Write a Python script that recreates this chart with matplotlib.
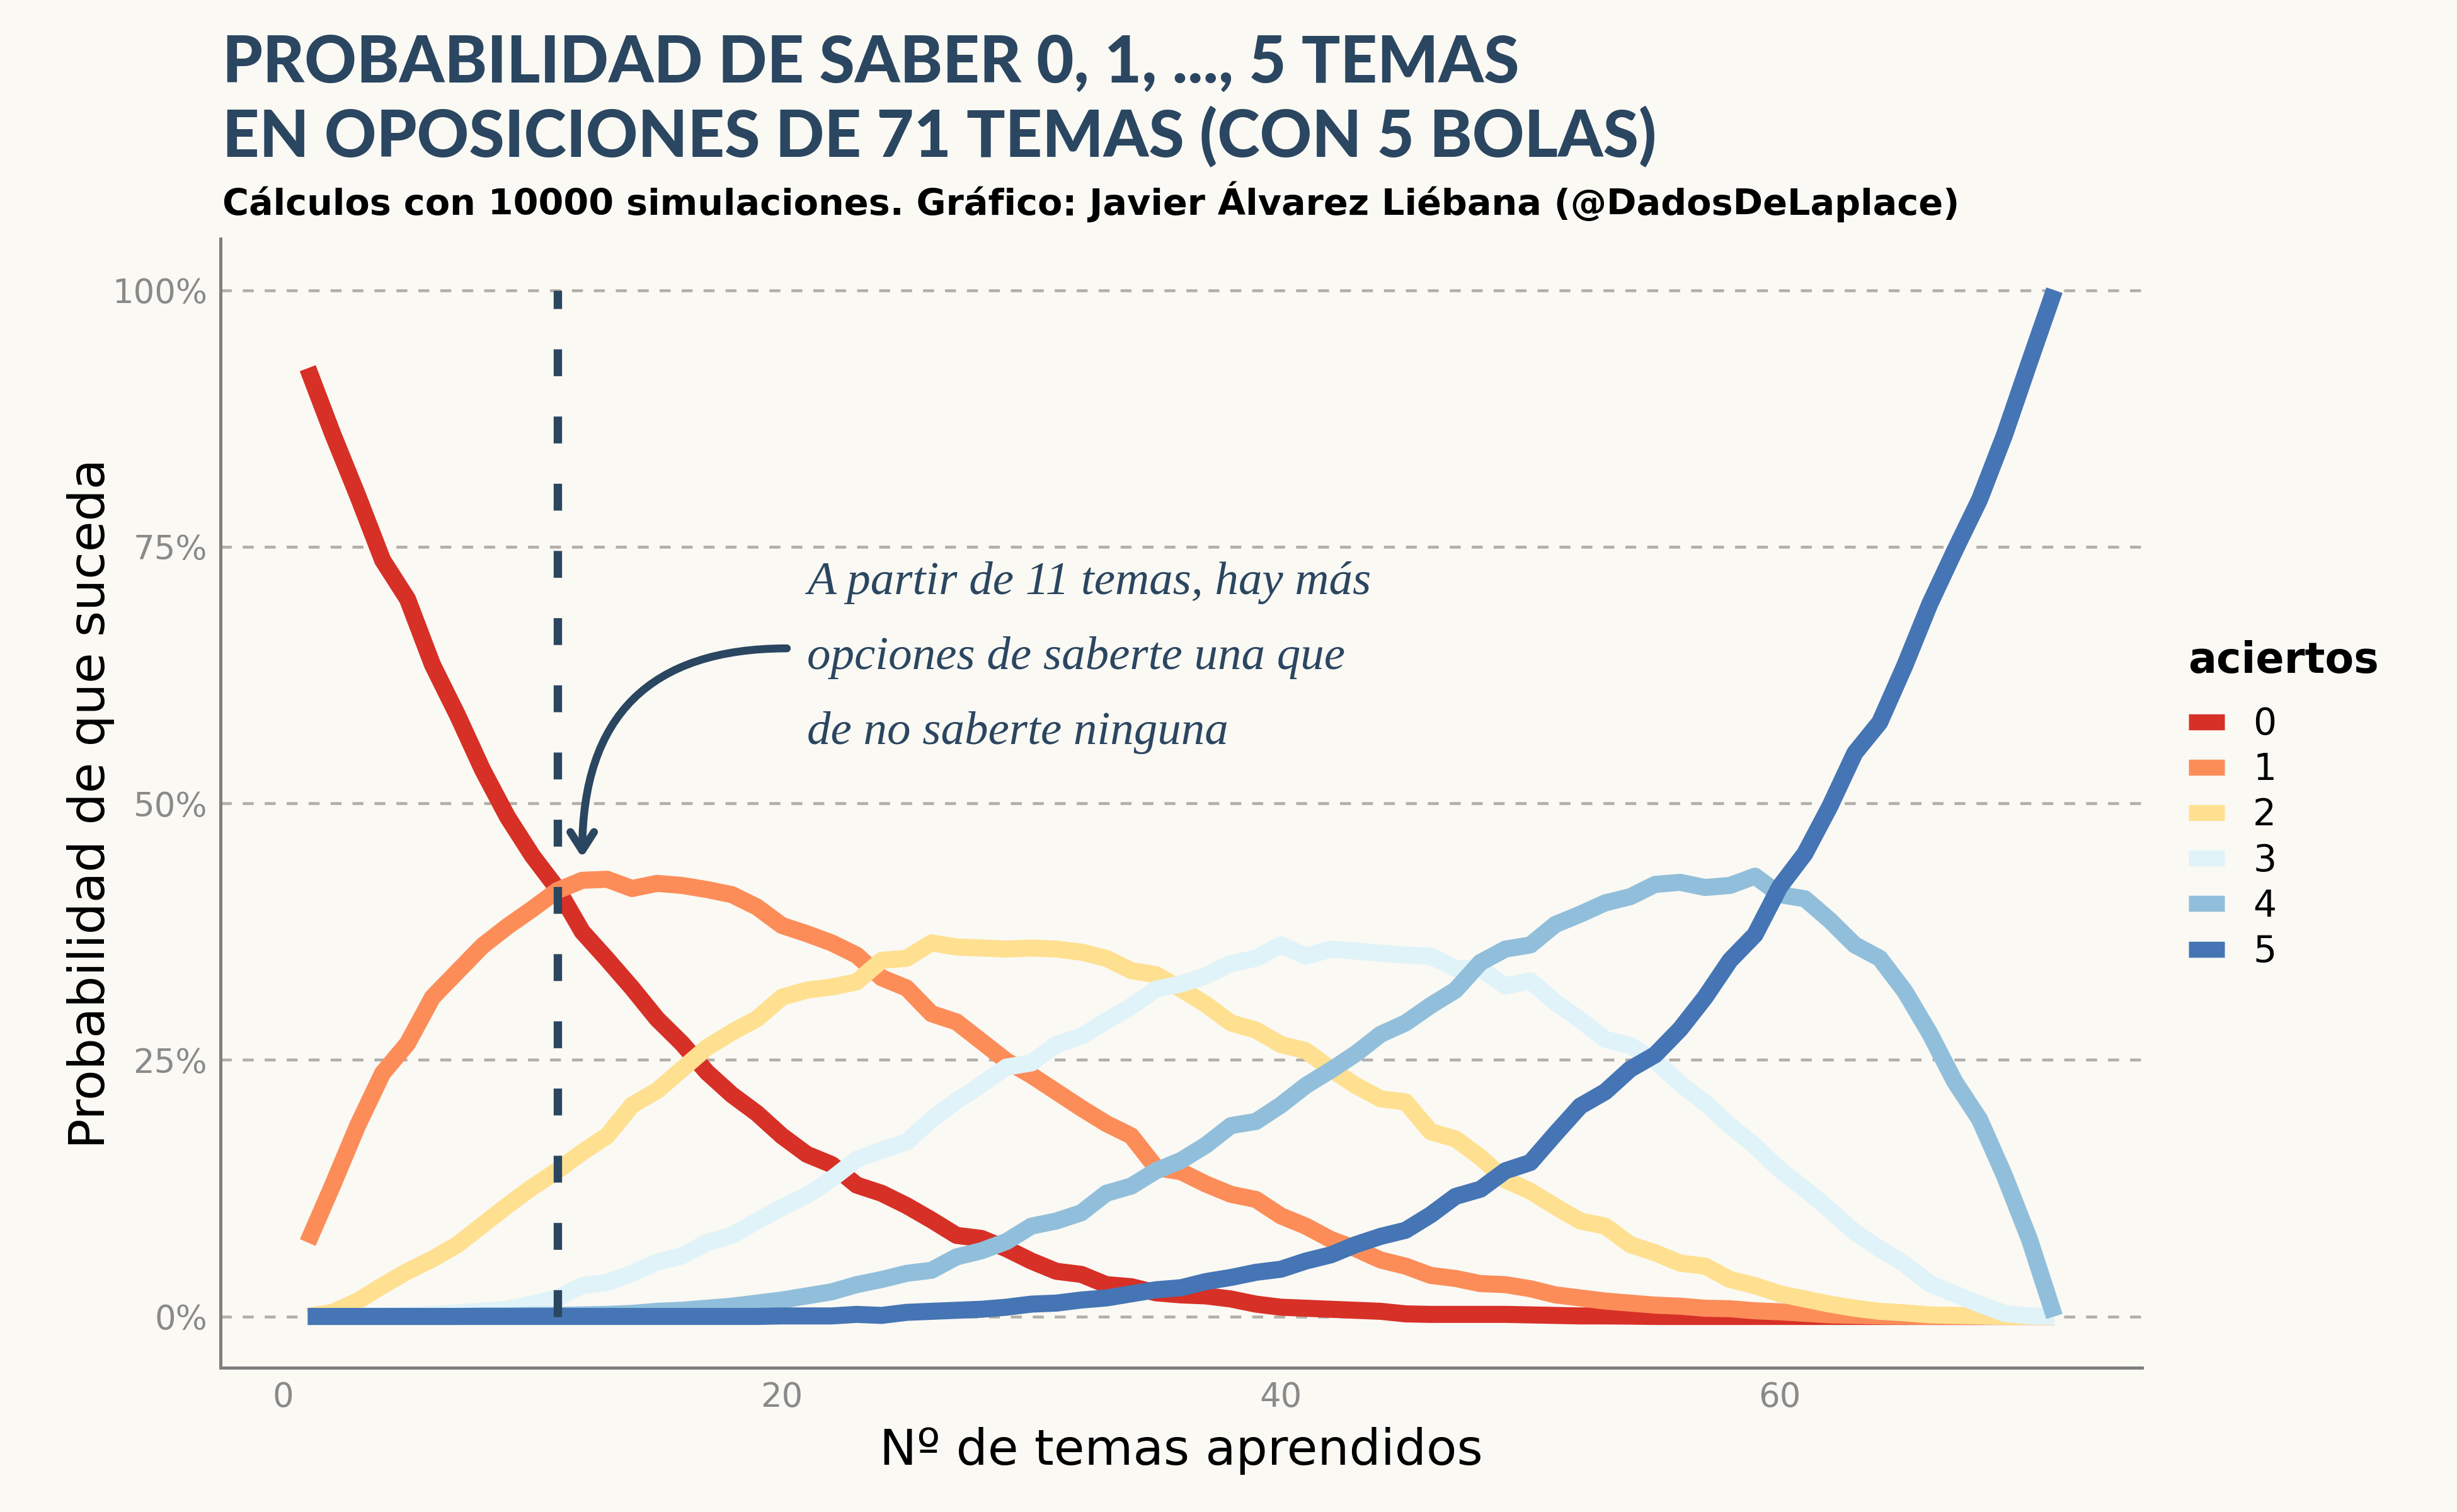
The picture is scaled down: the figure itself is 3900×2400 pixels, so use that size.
import matplotlib.pyplot as plt
from matplotlib.lines import Line2D
from matplotlib.ticker import FuncFormatter

# Datos (probabilidad en %, temas aprendidos 1..71)
temas = list(range(1, 72))

aciertos_0 = [92.4, 86.0, 80.0, 73.7, 69.9, 63.5, 58.6, 53.3, 48.7, 44.9,
              41.7, 37.5, 34.8, 32.0, 29.0, 26.6, 23.8, 21.6, 19.8, 17.6,
              15.8, 14.8, 12.8, 12.0, 10.8, 9.4, 7.9, 7.6, 6.6, 5.4,
              4.4, 4.1, 3.1, 2.9, 2.3, 2.1, 2.0, 1.7, 1.2, 0.9,
              0.8, 0.7, 0.6, 0.5, 0.25, 0.2, 0.2, 0.2, 0.2, 0.15,
              0.1, 0.05, 0.05, 0.03, 0, 0, 0, 0, 0, 0,
              0, 0, 0, 0, 0, 0, 0, 0, 0, 0, 0]
aciertos_1 = [7.2, 12.8, 18.6, 23.7, 26.6, 31.1, 33.6, 36.1, 38.0, 39.7,
              41.5, 42.5, 42.6, 41.7, 42.2, 42.0, 41.6, 41.1, 39.9, 38.1,
              37.3, 36.4, 35.2, 33.0, 32.0, 29.5, 28.7, 26.8, 24.9, 23.5,
              21.9, 20.3, 18.8, 17.6, 14.5, 14.1, 12.9, 11.9, 11.4, 9.8,
              8.8, 7.5, 6.6, 5.5, 4.9, 4.0, 3.7, 3.2, 3.1, 2.7,
              2.1, 1.8, 1.5, 1.3, 1.1, 1.0, 0.8, 0.75, 0.55, 0.45,
              0.3, 0.15, 0.1, 0.05, 0.03, 0, 0, 0, 0, 0, 0]
aciertos_2 = [0, 0.4, 1.5, 3.0, 4.4, 5.6, 7.0, 8.9, 10.8, 12.6,
              14.2, 16.0, 17.6, 20.6, 22.0, 24.1, 26.2, 27.7, 29.0, 31.1,
              31.8, 32.1, 32.6, 34.7, 34.9, 36.4, 36.0, 35.9, 35.8, 35.9,
              35.8, 35.5, 34.9, 33.7, 33.3, 31.9, 30.4, 28.6, 27.9, 26.5,
              25.9, 24.1, 22.5, 21.2, 20.9, 18.0, 17.3, 15.5, 13.3, 12.2,
              10.7, 9.3, 8.8, 7.0, 6.2, 5.2, 4.9, 3.6, 3.0, 2.2,
              1.7, 1.2, 0.8, 0.5, 0.35, 0.15, 0.1, 0.05, 0, 0, 0]
aciertos_3 = [0, 0, 0, 0.05, 0.1, 0.2, 0.35, 0.5, 0.7, 1.2,
              1.8, 3.0, 3.3, 4.2, 5.3, 5.9, 7.2, 7.9, 9.3, 10.6,
              11.8, 13.4, 15.3, 16.2, 17.0, 19.2, 21.0, 22.6, 24.3, 24.7,
              26.5, 27.3, 28.8, 30.2, 31.9, 32.4, 33.2, 34.4, 34.9, 36.2,
              35.1, 35.8, 35.6, 35.4, 35.2, 35.1, 33.9, 33.9, 32.2, 32.7,
              30.6, 28.9, 27.0, 26.4, 24.9, 22.7, 20.8, 18.6, 16.6, 14.3,
              12.4, 10.4, 8.2, 6.6, 5.1, 3.2, 2.2, 1.2, 0.3, 0.05, 0]
aciertos_4 = [0, 0, 0, 0, 0, 0, 0, 0.05, 0.05, 0.1,
              0.1, 0.15, 0.2, 0.3, 0.5, 0.6, 0.8, 1.0, 1.3, 1.6,
              2.0, 2.4, 3.1, 3.6, 4.2, 4.5, 5.8, 6.4, 7.3, 8.8,
              9.3, 10.1, 12.0, 12.7, 14.2, 15.2, 16.7, 18.6, 19.0, 20.6,
              22.5, 24.0, 25.6, 27.5, 28.6, 30.3, 31.8, 34.5, 35.8, 36.2,
              38.2, 39.2, 40.3, 40.9, 42.1, 42.3, 41.8, 42.0, 42.9, 41.1,
              40.7, 38.6, 36.2, 34.9, 31.7, 27.6, 22.9, 19.2, 13.7, 7.5, 0]
aciertos_5 = [0, 0, 0, 0, 0, 0, 0, 0, 0, 0,
              0, 0, 0, 0, 0, 0, 0, 0, 0, 0.05,
              0.05, 0.05, 0.2, 0.1, 0.4, 0.5, 0.6, 0.7, 0.9, 1.2,
              1.3, 1.6, 1.8, 2.2, 2.6, 2.8, 3.4, 3.8, 4.3, 4.6,
              5.4, 6.0, 7.0, 7.8, 8.4, 9.9, 11.7, 12.4, 14.2, 15.0,
              17.8, 20.5, 21.9, 24.1, 25.5, 28.0, 31.1, 34.7, 37.2, 41.9,
              45.1, 49.7, 54.9, 57.9, 63.4, 69.4, 74.6, 79.6, 85.9, 93.0, 100]

series = [aciertos_0, aciertos_1, aciertos_2, aciertos_3, aciertos_4, aciertos_5]
etiquetas = ["0", "1", "2", "3", "4", "5"]
colores = ["#D73027", "#FC8D59", "#FEE090", "#E0F3F8", "#91BFDB", "#4575B4"]

tema_corte = 11
y_ticks = [0, 25, 50, 75, 100]
x_ticks = [0, 20, 40, 60]

nota_lineas = ["A partir de 11 temas, hay más",
               "opciones de saberte una que",
               "de no saberte ninguna"]
nota_y = [70.4, 63.1, 55.8]

fondo = "#FAF9F4"
azul_oscuro = "#2B4660"
fuente_titulo = "Lato"
fuente = "DejaVu Sans"

fig = plt.figure(figsize=(13, 8), dpi=300)
fig.patch.set_facecolor(fondo)
ax = fig.add_axes([0.0897, 0.0954, 0.782, 0.7466])
ax.set_facecolor(fondo)

# Líneas de probabilidad
for i in range(len(series)):
    ax.plot(temas, series[i], color=colores[i], lw=6.5,
            solid_joinstyle='round', solid_capstyle='butt', zorder=3 + i)

# Línea vertical discontinua en 11 temas
ax.plot([tema_corte, tema_corte], [0, 100], color=azul_oscuro, lw=3.2,
        dashes=(3.2, 4.8), zorder=10)

ax.set_xlim(-2.5, 74.5)
ax.set_ylim(-5, 105)
ax.set_yticks(y_ticks)
ax.set_xticks(x_ticks)
ax.yaxis.set_major_formatter(FuncFormatter(lambda v, p: f"{v:.0f}%"))
ax.grid(axis='y', color="#B3AEA8", lw=1.1, dashes=(3.8, 3.8))
ax.set_axisbelow(True)
for s in ["top", "right"]:
    ax.spines[s].set_visible(False)
for s in ["left", "bottom"]:
    ax.spines[s].set_color("#7F7F7F")
    ax.spines[s].set_linewidth(1.2)
ax.tick_params(length=0, pad=5, labelsize=12.7, labelcolor="#8A8A8A")
for lab in ax.get_xticklabels() + ax.get_yticklabels():
    lab.set_fontfamily(fuente)

ax.set_xlabel("Nº de temas aprendidos", fontsize=19, family=fuente, labelpad=5)
ax.set_ylabel("Probabilidad de que suceda", fontsize=19, family=fuente, labelpad=-1)

# Anotación
ax.annotate("", xy=(12.0, 44.7), xytext=(20.2, 65.1),
            arrowprops=dict(arrowstyle="->,head_length=0.7,head_width=0.45",
                            color=azul_oscuro, lw=3.0, shrinkA=0, shrinkB=0,
                            capstyle='round',
                            connectionstyle="angle3,angleA=0,angleB=90"),
            zorder=11)
for linea, yy in zip(nota_lineas, nota_y):
    ax.text(21.0, yy, linea, color=azul_oscuro, fontsize=18,
            family="Liberation Serif", style="italic",
            va="baseline", ha="left", zorder=11)

# Títulos
fig.text(0.0905, 0.9455, "PROBABILIDAD DE SABER 0, 1, ..., 5 TEMAS", fontsize=24.5,
         fontweight="black", family=fuente_titulo, color=azul_oscuro, va="baseline")
fig.text(0.0905, 0.896, "EN OPOSICIONES DE 71 TEMAS (CON 5 BOLAS)", fontsize=24.5,
         fontweight="black", family=fuente_titulo, color=azul_oscuro, va="baseline")
fig.text(0.0905, 0.858, "Cálculos con 10000 simulaciones. Gráfico: Javier Álvarez Liébana (@DadosDeLaplace)",
         fontsize=13.75, fontweight="bold", family=fuente, color="black", va="baseline")

# Leyenda
fig.text(0.8905, 0.555, "aciertos", fontsize=16, fontweight="bold", family=fuente,
         color="black", va="baseline")
handles = [Line2D([0], [0], color=c, lw=6.1, solid_capstyle='butt') for c in colores]
leg = fig.legend(handles, etiquetas, loc="upper left", bbox_to_anchor=(0.8833, 0.545),
                 frameon=False, borderpad=0,
                 prop={"family": fuente, "size": 14}, handlelength=0.98,
                 labelspacing=0.26, handletextpad=0.77)

fig.savefig("out.png", dpi=300, facecolor=fondo)
